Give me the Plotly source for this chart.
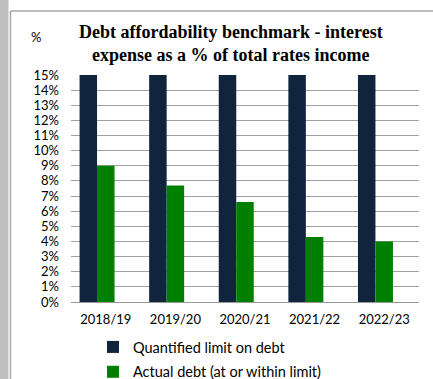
import plotly.graph_objects as go

# Financial years on the category axis
years = ["2018/19", "2019/20", "2020/21", "2021/22", "2022/23"]

# Interest expense as a % of total rates income
limit_on_debt = [15, 15, 15, 15, 15]
actual_debt = [9.0, 7.7, 6.6, 4.3, 4.0]

y_ticks = list(range(0, 16))
y_tick_labels = [f"{v}%" for v in y_ticks]

W, H = 433, 379
L, R, T, B = 71, 14, 75, 77
PW = W - L - R
PH = H - T - B


def px_x(p):
    return (p - L) / PW


def px_y(p):
    return 1 - (p - T) / PH


label_font = dict(family="Lato, Calibri, Carlito, sans-serif", size=13, color="#000000")

fig = go.Figure()
fig.add_trace(go.Bar(
    x=years, y=limit_on_debt, name="Quantified limit on debt",
    marker=dict(color="#10243E", line=dict(width=0)),
    legendgroup="a",
))
fig.add_trace(go.Bar(
    x=years, y=actual_debt, name="Actual debt (at or within limit)",
    marker=dict(color="#008000", line=dict(width=0)),
    legendgroup="b",
))
# empty third series keeps its slot in each group
fig.add_trace(go.Bar(
    x=years, y=[None] * len(years), name="",
    marker=dict(color="rgba(0,0,0,0)", line=dict(width=0)),
    showlegend=False, hoverinfo="skip",
))

fig.update_layout(
    width=W, height=H,
    margin=dict(l=L, r=R, t=T, b=B, pad=0, autoexpand=False),
    paper_bgcolor="white", plot_bgcolor="white",
    barmode="group", bargap=0.246, bargroupgap=0,
    font=label_font,
    showlegend=True,
    legend=dict(
        orientation="v", x=px_x(93), xanchor="left", y=px_y(331), yanchor="top",
        font=dict(family="Lato, Calibri, Carlito, sans-serif", size=14.5, color="#000000"),
        bgcolor="rgba(0,0,0,0)", traceorder="grouped", tracegroupgap=3,
        itemwidth=30,
    ),
    xaxis=dict(
        showgrid=False, showline=True, linecolor="#9A9A9A", linewidth=1,
        ticks="", ticklen=0, tickfont=label_font, ticklabelstandoff=5, fixedrange=True,
    ),
    yaxis=dict(
        range=[0, 15], tickvals=y_ticks, ticktext=y_tick_labels,
        showgrid=True, gridcolor="#A0A0A0", gridwidth=1, zeroline=False,
        showline=False, ticks="", ticklen=0, tickfont=label_font, ticklabelstandoff=11,
        fixedrange=True,
    ),
    annotations=[
        dict(
            text="<b>Debt affordability benchmark - interest<br>expense as a % of total rates income</b>",
            xref="paper", yref="paper", x=px_x(231), y=px_y(20), xanchor="center", yanchor="top",
            showarrow=False, align="center",
            font=dict(family="Liberation Serif, Times New Roman, serif", size=18, color="#000000"),
        ),
        dict(
            text="%", xref="paper", yref="paper", x=px_x(36), y=px_y(37),
            xanchor="center", yanchor="middle", showarrow=False,
            font=dict(family="Lato, Calibri, sans-serif", size=13, color="#000000"),
        ),
    ],
    shapes=[
        # grey strip along the left edge
        dict(type="rect", xref="paper", yref="paper", x0=px_x(0), x1=px_x(8.5),
             y0=px_y(H), y1=px_y(0), fillcolor="#C0C0C0", line=dict(width=0), layer="below"),
        # chart frame: left and top edges
        dict(type="line", xref="paper", yref="paper", x0=px_x(10.5), x1=px_x(10.5),
             y0=px_y(H), y1=px_y(11), line=dict(color="#A8A8A8", width=1.5)),
        dict(type="line", xref="paper", yref="paper", x0=px_x(10.5), x1=px_x(W),
             y0=px_y(11), y1=px_y(11), line=dict(color="#A8A8A8", width=1.5)),
    ],
)

fig.write_html("out.html")
